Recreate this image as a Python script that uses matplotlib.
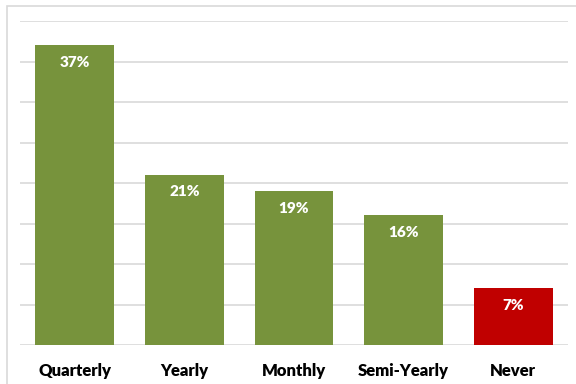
import matplotlib
matplotlib.use("Agg")
import matplotlib.pyplot as plt
from matplotlib.patches import Rectangle

# review frequency shares
categories = ["Quarterly", "Yearly", "Monthly", "Semi-Yearly", "Never"]
shares = [37, 21, 19, 16, 7]
bar_colors = ["#77933C", "#77933C", "#77933C", "#77933C", "#C00000"]

plt.rcParams['font.family'] = ['Lato', 'DejaVu Sans']

fig = plt.figure(figsize=(5.76, 3.84), dpi=100)
W, H = 576, 384
ax = fig.add_axes([20 / W, 39 / H, 548 / W, 324 / H])

x = range(len(categories))
bars = ax.bar(x, shares, width=0.72, color=bar_colors, zorder=3)

# value labels inside the top of each bar
for b, v in zip(bars, shares):
    ax.annotate(f"{v}%", (b.get_x() + b.get_width() / 2, v),
                xytext=(0, -17), textcoords="offset pixels",
                ha="center", va="center", color="white",
                fontsize=11, fontweight="heavy", zorder=4)

ax.set_xlim(-0.5, len(categories) - 0.5)
ax.set_ylim(0, 40)
ax.set_yticks(range(0, 41, 5))
ax.yaxis.grid(True, color="#D9D9D9", linewidth=1.2, zorder=0)
ax.tick_params(axis="y", left=False, labelleft=False)
ax.tick_params(axis="x", length=0, pad=13)
ax.set_xticks(list(x))
ax.set_xticklabels(categories, fontsize=12, fontweight="heavy")
for s in ax.spines.values():
    s.set_visible(False)

# outer chart frame
fig.add_artist(Rectangle((6.5 / W, -0.1), 1.2, 1.1 - 5.5 / H,
                         transform=fig.transFigure, fill=False,
                         edgecolor="#D9D9D9", linewidth=1.2))

fig.savefig("out.png", dpi=100)
